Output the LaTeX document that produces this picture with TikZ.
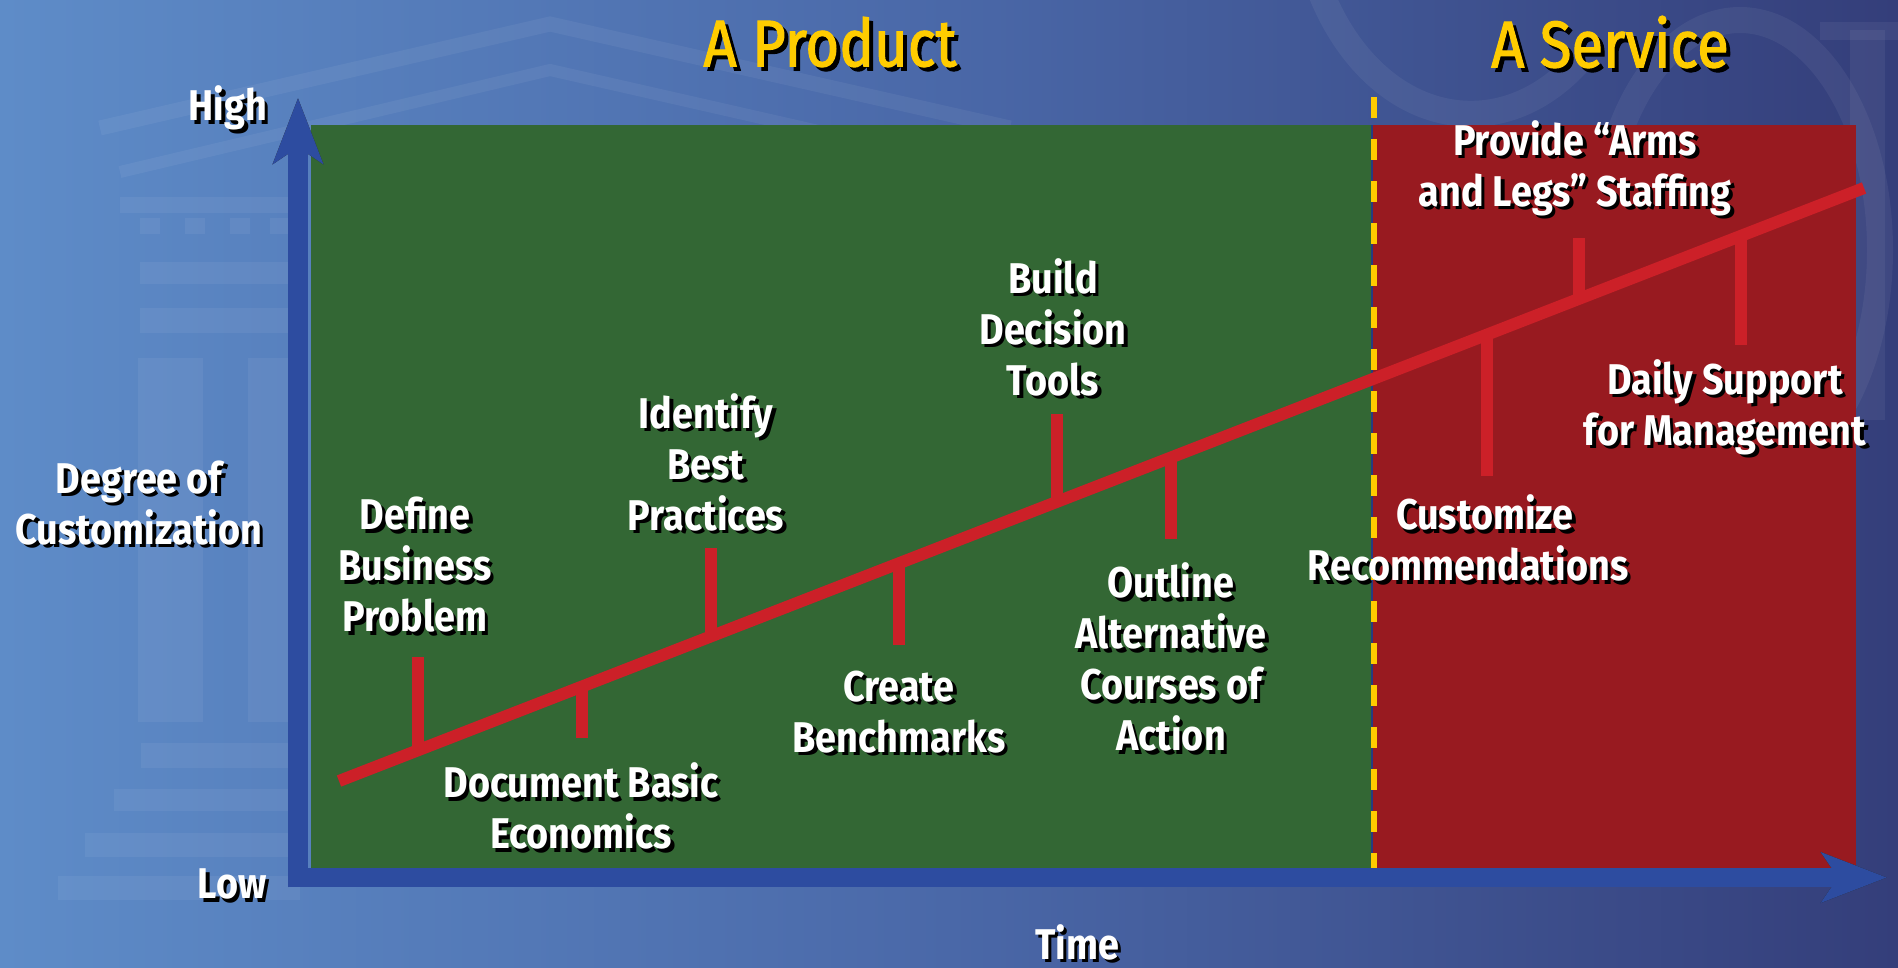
\documentclass[tikz,border=0pt]{standalone}
\usepackage{fontspec}
\setmainfont{Fira Sans}[FakeStretch=0.88]
\newfontfamily\titlefont{Fira Sans}[FakeStretch=0.88, FakeBold=1.6]
\usetikzlibrary{arrows.meta}

\definecolor{bgleft}{RGB}{94,140,200}
\definecolor{bgmid}{RGB}{74,104,168}
\definecolor{bgright}{RGB}{52,62,122}
\definecolor{axisblue}{RGB}{45,76,160}
\definecolor{prodgreen}{RGB}{51,103,52}
\definecolor{servred}{RGB}{152,26,32}
\definecolor{trendred}{RGB}{204,32,40}
\definecolor{titleyellow}{RGB}{255,204,0}

\tikzset{
  lbl/.style={text=white, font=\bfseries\fontsize{43}{51}\selectfont, align=center, inner sep=0pt},
  lblshadow/.style={lbl, text=black, xshift=3.5pt, yshift=-3.5pt},
  ttl/.style={text=titleyellow, font=\titlefont\fontsize{66}{70}\selectfont, inner sep=0pt},
  ttlshadow/.style={ttl, text=black, xshift=4pt, yshift=-4pt},
  trend/.style={draw=trendred, line width=12pt},
  ticker/.style={draw=trendred, line width=12pt},
  axisarrow/.style={draw=axisblue, -{Stealth[length=65pt,width=49pt,inset=16pt]}},
  axisshadow/.style={draw=black!85, -{Stealth[length=65pt,width=49pt,inset=16pt]}},
  faint/.style={fill=white, fill opacity=0.055, draw=none},
  faintline/.style={draw=white, draw opacity=0.055},
}

% text with a drop shadow: [style]{name}{position}{text}
\newcommand\shadowtext[4][lbl]{%
  \node[#1shadow] at (#3) {#4};
  \node[#1] (#2) at (#3) {#4};
}

\begin{document}
\begin{tikzpicture}[x=1pt, y=-1pt]
  \useasboundingbox (0,0) rectangle (1898,967);
  % backdrop
  \fill[left color=bgleft, right color=bgright, middle color=bgmid] (0,0) rectangle (1898,967);

  % faded building behind the chart: pediment, entablature, columns, steps
  \draw[faintline, line width=15pt] (100,128) -- (550,24) -- (1010,128);
  \draw[faintline, line width=12pt] (120,172) -- (550,70) -- (990,170);
  \fill[faint] (120,197) rectangle (300,213);
  \foreach \dx in {140,185,230,270} {
    \fill[faint] (\dx,218) rectangle ++(20,16);
  }
  \fill[faint] (140,262) rectangle (300,284);
  \fill[faint] (140,308) rectangle (300,333);
  \fill[faint] (138,358) rectangle (203,722);
  \fill[faint] (248,358) rectangle (300,722);
  \fill[faint] (141,743) rectangle (300,768);
  \fill[faint] (114,789) rectangle (300,811);
  \fill[faint] (85,833) rectangle (300,857);
  \fill[faint] (58,876) rectangle (300,900);
  % faded lettering on the right
  \draw[faintline, line width=26pt] (1580,60) arc[start angle=50, end angle=310, x radius=170, y radius=230];
  \draw[faintline, line width=26pt] (1740,250) ellipse[x radius=140, y radius=230];
  \fill[faint] (1850,30) rectangle (1885,420);
  \fill[faint] (1820,22) rectangle (1898,40);

  % the two phases
  \fill[prodgreen] (311,125) rectangle (1372,868);
  \fill[servred] (1372,125) rectangle (1856,868);
  \draw[axisblue!80!black, line width=1.5pt] (1372,125) -- (1372,868);

  % axes with their shadows
  \coordinate (ytop) at (298,98);
  \coordinate (ybot) at (298,887);
  \coordinate (xleft) at (288,877.5);
  \coordinate (xright) at (1887,877.5);
  \begin{scope}[xshift=3.5pt, yshift=-3.5pt]
    \draw[axisshadow, line width=20pt] (ybot) -- (ytop);
    \draw[axisshadow, line width=19pt] (xleft) -- (xright);
  \end{scope}
  \draw[axisarrow, line width=20pt] (ybot) -- (ytop);
  \draw[axisarrow, line width=19pt] (xleft) -- (xright);

  % trend line and its milestones
  \coordinate (tstart) at (339,781);
  \coordinate (tend) at (1864,188);
  \path (tstart) -- (tend)
    coordinate[pos=0.0518] (m1)
    coordinate[pos=0.1593] (m2)
    coordinate[pos=0.2439] (m3)
    coordinate[pos=0.3672] (m4)
    coordinate[pos=0.4708] (m5)
    coordinate[pos=0.5456] (m6)
    coordinate[pos=0.7528] (m7)
    coordinate[pos=0.8131] (m8)
    coordinate[pos=0.9193] (m9);
  \coordinate (e1) at (418,657);
  \coordinate (e2) at (582,738);
  \coordinate (e3) at (711,548);
  \coordinate (e4) at (899,645);
  \coordinate (e5) at (1057,414);
  \coordinate (e6) at (1171,539);
  \coordinate (e7) at (1487,476);
  \coordinate (e8) at (1579,238);
  \coordinate (e9) at (1741,345);
  \foreach \i in {1,...,9} {
    \draw[ticker] (m\i) -- (m\i |- e\i);
  }
  \draw[trend] (tstart) -- (tend);

  % border between product and service
  \coordinate (dtop) at (1374,97);
  \coordinate (dbot) at (1374,868);
  \draw[white, line width=5pt, dash pattern=on 21pt off 21pt, xshift=3.5pt, yshift=-3pt] (dtop) -- (dbot);
  \draw[titleyellow, line width=5.5pt, dash pattern=on 21pt off 21pt] (dtop) -- (dbot);

  % headings
  \shadowtext[ttl]{product}{830,42}{A Product}
  \shadowtext[ttl]{service}{1610,42}{A Service}

  % axis labels
  \shadowtext{high}{228,108}{High}
  \shadowtext{low}{232,884}{Low}
  \shadowtext{time}{1077,942}{Time}
  \shadowtext{degree}{139,503}{Degree of\\Customization}

  % milestones
  \shadowtext{define}{415,565}{Define\\Business\\Problem}
  \shadowtext{document}{581,806}{Document Basic\\Economics}
  \shadowtext{identify}{706,462}{Identify\\Best\\Practices}
  \shadowtext{create}{899,712}{Create\\Benchmarks}
  \shadowtext{build}{1053,327}{Build\\Decision\\Tools}
  \shadowtext{outline}{1171,657}{Outline\\Alternative\\Courses of\\Action}
  \shadowtext{customize}{1468,538}{\hspace*{34pt}Customize\\Recommendations}
  \shadowtext{provide}{1575,168}{Provide “Arms\\and Legs” Staffing}
  \shadowtext{daily}{1725,407}{Daily Support\\for Management}
\end{tikzpicture}
\end{document}
